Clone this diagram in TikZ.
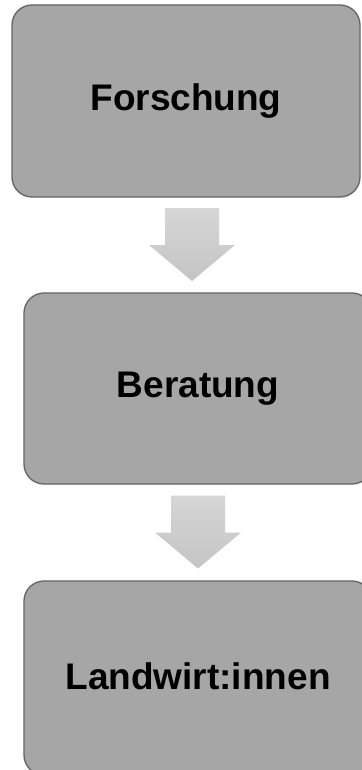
\documentclass[tikz,border=0pt]{standalone}
\usepackage{fontspec}
\setmainfont{Liberation Sans}
\usetikzlibrary{calc}
\definecolor{boxfill}{RGB}{166,166,166}
\definecolor{boxline}{RGB}{100,100,100}
\definecolor{arrtop}{RGB}{214,214,214}
\definecolor{arrbot}{RGB}{196,196,196}
\tikzset{
  stagebox/.style={draw=boxline, line width=1.3pt, fill=boxfill, rounded corners=20pt,
    minimum width=348pt, inner sep=0pt, font=\fontsize{37}{44}\selectfont\bfseries, text=black},
  blockarrow/.style={top color=arrtop, bottom color=arrbot, draw=none}
}
\newcommand{\downarrowblock}[1]{%
  \path[blockarrow] ([shift={(-27,-37)}]#1) -- ([shift={(27,-37)}]#1) -- ([shift={(27,0)}]#1)
    -- ([shift={(43,0)}]#1) -- ([shift={(0,36)}]#1) -- ([shift={(-43,0)}]#1)
    -- ([shift={(-27,0)}]#1) -- cycle;}
\begin{document}
\begin{tikzpicture}[x=1pt,y=-1pt]
\useasboundingbox[fill=white] (0,0) rectangle (361,770);
\node[stagebox, minimum height=192pt] (b1) at (186,101) {Forschung};
\node[stagebox, minimum height=191pt] (b2) at (198,388.5) {Beratung};
\node[stagebox, minimum height=194pt] (b3) at (198,678) {\raisebox{3.5pt}{Landwirt:innen}};
\coordinate (m1) at ($(b1.south)!0.5!(b2.north)$);
\coordinate (m2) at ($(b2.south)!0.5!(b3.north)$);
\downarrowblock{m1}
\downarrowblock{m2}
\end{tikzpicture}
\end{document}
